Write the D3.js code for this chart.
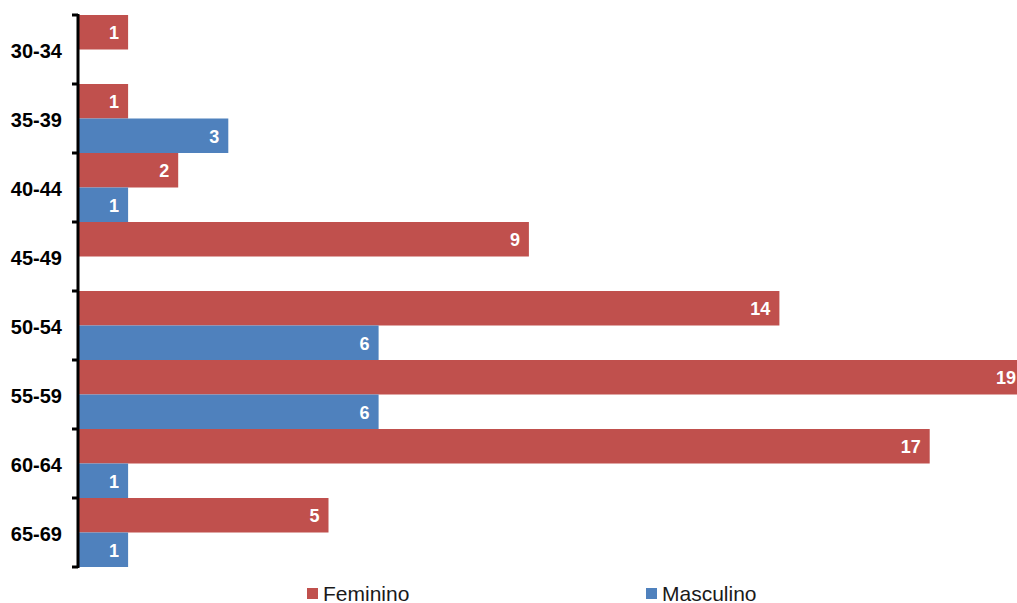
<!DOCTYPE html>
<html>
<head>
<meta charset="utf-8">
<script src="https://cdn.jsdelivr.net/npm/d3@7"></script>
<style>
  html, body { margin: 0; padding: 0; background: #fff; }
  svg { display: block; font-family: "Liberation Sans", Arial, sans-serif; }
</style>
</head>
<body>
<svg id="chart" width="1017" height="603"></svg>
<script>
// Age groups and counts per sex (null = no bar drawn)
const categories = ["30-34", "35-39", "40-44", "45-49", "50-54", "55-59", "60-64", "65-69"];
const feminino = [1, 1, 2, 9, 14, 19, 17, 5];
const masculino = [null, 3, 1, null, 6, 6, 1, 1];
const seriesNames = ["Feminino", "Masculino"];
const seriesColors = ["#C0504D", "#4F81BD"];

const svg = d3.select("#chart");
const W = 1017, H = 603;
const plot = { left: 78, top: 15, bottom: 567 };

const x = d3.scaleLinear().domain([0, 20]).range([plot.left, plot.left + 20 * 50.1]);
const y = d3.scaleBand().domain(categories).range([plot.top, plot.bottom]).padding(0);
const ySub = d3.scaleBand().domain(seriesNames).range([0, y.bandwidth()]).padding(0);

const rows = [];
categories.forEach((c, i) => {
  [feminino[i], masculino[i]].forEach((v, s) => {
    if (v != null) rows.push({ cat: c, series: seriesNames[s], color: seriesColors[s], value: v });
  });
});

const g = svg.append("g");

g.selectAll("rect.bar")
  .data(rows)
  .join("rect")
  .attr("class", "bar")
  .attr("x", x(0) + 1)
  .attr("y", d => y(d.cat) + ySub(d.series))
  .attr("width", d => x(d.value) - x(0) - 1)
  .attr("height", ySub.bandwidth())
  .attr("fill", d => d.color);

// Value labels sit inside the bar end; kept within the drawing width
g.selectAll("text.val")
  .data(rows)
  .join("text")
  .attr("class", "val")
  .attr("x", d => Math.min(x(d.value) - 9, W - 1))
  .attr("y", d => y(d.cat) + ySub(d.series) + ySub.bandwidth() / 2 + 7)
  .attr("text-anchor", "end")
  .attr("fill", "#fff")
  .attr("font-weight", "bold")
  .attr("font-size", 18)
  .text(d => d.value);

// Vertical category axis with ticks on band boundaries
const tickYs = categories.map(c => y(c)).concat([plot.bottom]);
g.append("line")
  .attr("x1", plot.left).attr("x2", plot.left)
  .attr("y1", plot.top - 1).attr("y2", plot.bottom + 1)
  .attr("stroke", "#000").attr("stroke-width", 3);
g.selectAll("line.tick")
  .data(tickYs)
  .join("line")
  .attr("class", "tick")
  .attr("x1", plot.left - 6).attr("x2", plot.left)
  .attr("y1", d => d).attr("y2", d => d)
  .attr("stroke", "#000").attr("stroke-width", 3);

g.selectAll("text.cat")
  .data(categories)
  .join("text")
  .attr("class", "cat")
  .attr("x", 62)
  .attr("y", d => y(d) + y.bandwidth() / 2 + 8)
  .attr("text-anchor", "end")
  .attr("font-weight", "bold")
  .attr("font-size", 20)
  .attr("fill", "#000")
  .text(d => d);

// Legend
const legendX = [307, 646];
const legend = g.selectAll("g.leg")
  .data(seriesNames)
  .join("g")
  .attr("class", "leg")
  .attr("transform", (d, i) => `translate(${legendX[i]},588)`);
legend.append("rect")
  .attr("width", 11).attr("height", 11)
  .attr("fill", (d, i) => seriesColors[i]);
legend.append("text")
  .attr("x", 16).attr("y", 12.5)
  .attr("font-size", 21)
  .attr("fill", "#1a1a1a")
  .text(d => d);
</script>
</body>
</html>
